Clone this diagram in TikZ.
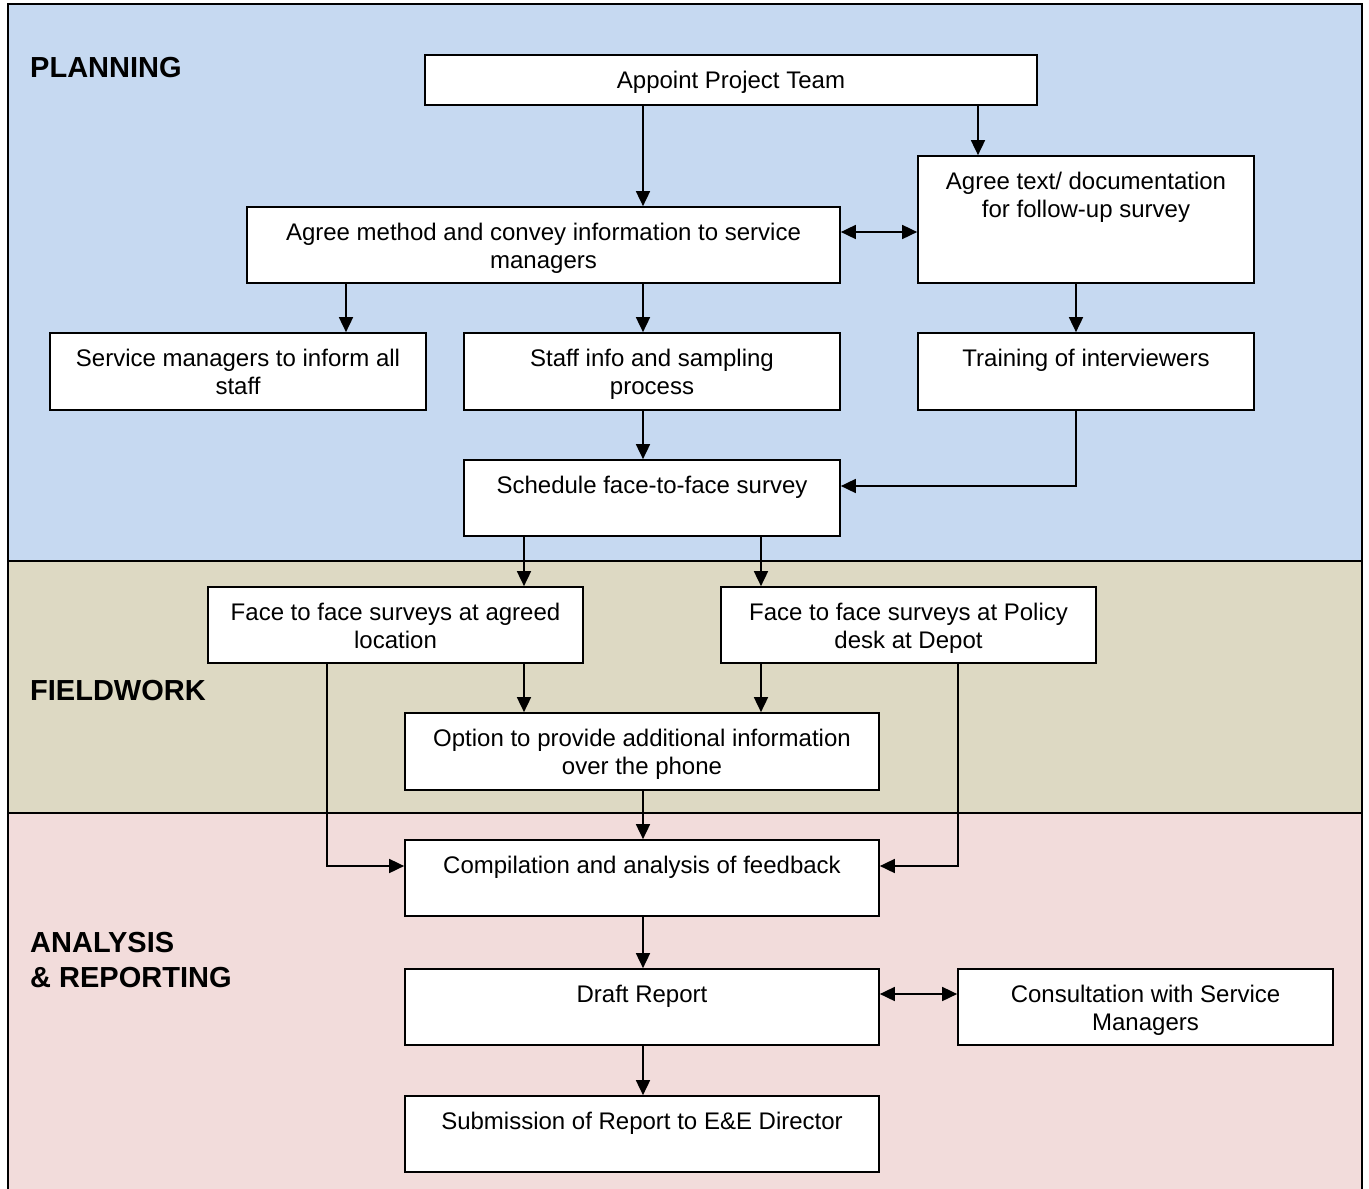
\documentclass[tikz,border=0pt]{standalone}
\usepackage{fontspec}
\setmainfont{Liberation Sans}
\usetikzlibrary{arrows.meta}

\definecolor{planblue}{HTML}{C6D9F1}
\definecolor{fieldtan}{HTML}{DDD9C3}
\definecolor{reportpink}{HTML}{F2DCDB}

\tikzset{
  stage/.style={draw, fill=white, line width=1.7pt, inner sep=0pt},
  flow/.style={line width=1.7pt, -{Triangle[width=14pt,length=15pt]}},
  twoway/.style={line width=1.7pt, {Triangle[width=14pt,length=15pt]}-{Triangle[width=14pt,length=15pt]}},
  band/.style={draw, line width=1.7pt},
  phase/.style={font=\fontsize{29}{35}\selectfont\bfseries, anchor=west, align=left, inner sep=0pt}
}
% box of given width and height, text set from the top
\newcommand{\stagetext}[3]{\parbox[c][#2pt][t]{#1pt}{\centering\rule{0pt}{33pt}#3}}

\begin{document}
\begin{tikzpicture}[x=1pt, y=-1pt, font=\fontsize{24}{28}\selectfont]
          \useasboundingbox (0,0) rectangle (1369,1189);
          % phases
          \draw[band, fill=planblue] (8,4) rectangle (1362,561);
          \draw[band, fill=fieldtan] (8,561) rectangle (1362,813);
          \draw[band, fill=reportpink] (8,813) rectangle (1362,1200);
          \node[phase] (planning) at (30,68) {PLANNING};
          \node[phase] (fieldwork) at (30,691) {FIELDWORK};
          \node[phase] (analysis) at (30,960.5) {ANALYSIS\\ \& REPORTING};
          % planning
          \node[stage] (team) at (731,80) {\stagetext{612}{50}{Appoint Project Team}};
          \node[stage] (agreetext) at (1086,219.5) {\stagetext{336}{127}{Agree text/ documentation\\ for follow-up survey}};
          \node[stage] (method) at (543.5,245) {\stagetext{593}{76}{Agree method and convey information to service\\ managers}};
          \node[stage] (inform) at (238,371.5) {\stagetext{376}{77}{Service managers to inform all\\ staff}};
          \node[stage] (staff) at (652,371.5) {\stagetext{376}{77}{Staff info and sampling\\ process}};
          \node[stage] (training) at (1086,371.5) {\stagetext{336}{77}{Training of interviewers}};
          \node[stage] (schedule) at (652,498) {\stagetext{376}{76}{Schedule face-to-face survey}};
          % fieldwork
          \node[stage] (agreed) at (395.5,625) {\stagetext{375}{76}{Face to face surveys at agreed\\ location}};
          \node[stage] (policy) at (908.5,625) {\stagetext{375}{76}{Face to face surveys at Policy\\ desk at Depot}};
          \node[stage] (option) at (642,751.5) {\stagetext{474}{77}{Option to provide additional information\\ over the phone}};
          % analysis and reporting
          \node[stage] (compile) at (642,878) {\stagetext{474}{76}{Compilation and analysis of feedback}};
          \node[stage] (draft) at (642,1007) {\stagetext{474}{76}{Draft Report}};
          \node[stage] (consult) at (1145.5,1007) {\stagetext{375}{76}{Consultation with Service\\ Managers}};
          \node[stage] (submit) at (642,1134) {\stagetext{474}{76}{Submission of Report to E\&E Director}};
          % connectors
          \draw[flow] (643,0 |- team.south) -- (643,0 |- method.north);
          \draw[flow] (978,0 |- team.south) -- (978,0 |- agreetext.north);
          \draw[twoway] (method.east |- 0,232) -- (agreetext.west |- 0,232);
          \draw[flow] (346,0 |- method.south) -- (346,0 |- inform.north);
          \draw[flow] (643,0 |- method.south) -- (643,0 |- staff.north);
          \draw[flow] (1076,0 |- agreetext.south) -- (1076,0 |- training.north);
          \draw[flow] (643,0 |- staff.south) -- (643,0 |- schedule.north);
          \draw[flow] (1076,0 |- training.south) |- (schedule.east |- 0,486);
          \draw[flow] (524,0 |- schedule.south) -- (524,0 |- agreed.north);
          \draw[flow] (761,0 |- schedule.south) -- (761,0 |- policy.north);
          \draw[flow] (524,0 |- agreed.south) -- (524,0 |- option.north);
          \draw[flow] (761,0 |- policy.south) -- (761,0 |- option.north);
          \draw[flow] (643,0 |- option.south) -- (643,0 |- compile.north);
          \draw[flow] (327,0 |- agreed.south) |- (compile.west |- 0,866);
          \draw[flow] (958,0 |- policy.south) |- (compile.east |- 0,866);
          \draw[flow] (643,0 |- compile.south) -- (643,0 |- draft.north);
          \draw[twoway] (draft.east |- 0,994) -- (consult.west |- 0,994);
          \draw[flow] (643,0 |- draft.south) -- (643,0 |- submit.north);
        \end{tikzpicture}
\end{document}
